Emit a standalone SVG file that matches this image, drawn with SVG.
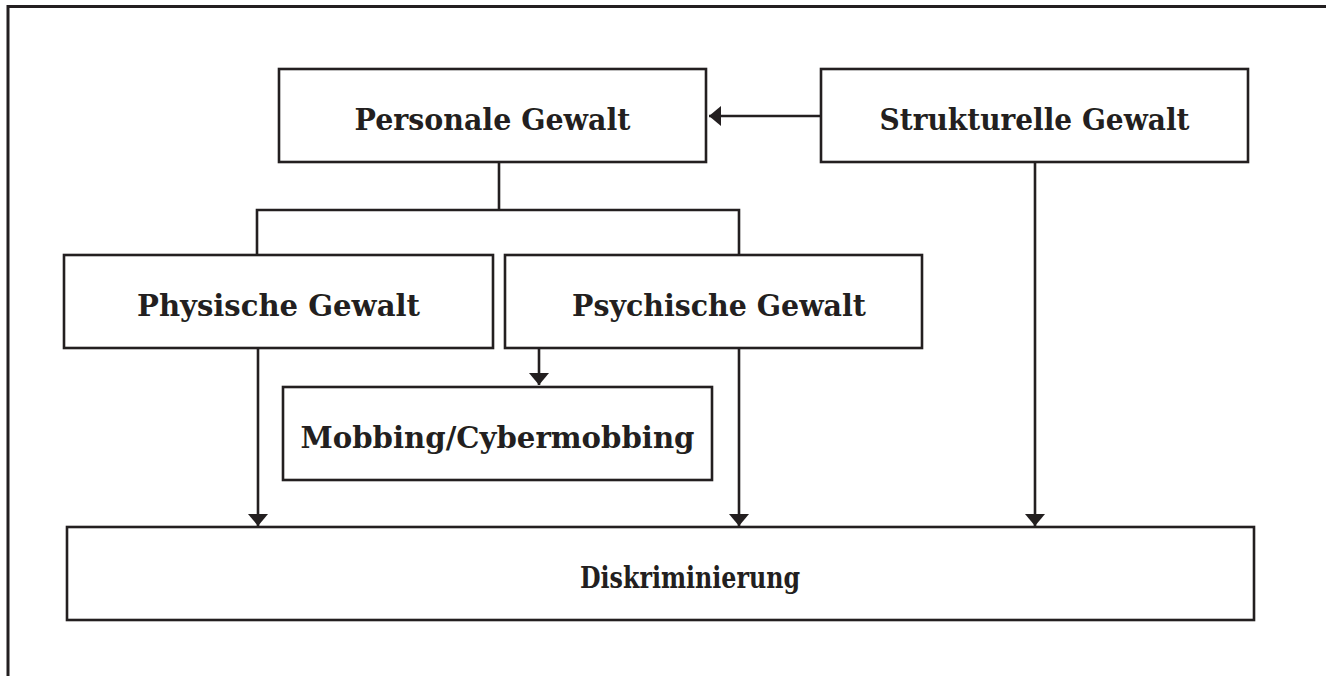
<svg xmlns="http://www.w3.org/2000/svg" width="1326" height="676" viewBox="0 0 1326 676">
<style>
.box{fill:#fff;stroke:#231f20;stroke-width:2.6}
.lbl{font-family:"DejaVu Serif","Liberation Serif",serif;font-weight:bold;font-size:29px;fill:#231f20;text-anchor:middle}
.ln{fill:none;stroke:#231f20;stroke-width:2.6}
.frame{fill:none;stroke:#231f20;stroke-width:3}
</style>
<defs>
<marker id="ah" viewBox="0 0 12 20" refX="12" refY="10" markerWidth="12" markerHeight="20" markerUnits="userSpaceOnUse" orient="auto">
<path d="M0,0 L12,10 L0,20 Z" fill="#231f20"/>
</marker>
</defs>
<rect width="1326" height="676" fill="#fff"/>
<path class="frame" d="M8,676 L8,6.5 L1326,6.5"/>
<g id="connectors">
<path class="ln" d="M821,116 L709,116" marker-end="url(#ah)"/>
<path class="ln" d="M499,163 L499,210 M257,255 L257,210 L739,210 L739,255"/>
<path class="ln" d="M258,348 L258,526" marker-end="url(#ah)"/>
<path class="ln" d="M739,348 L739,526" marker-end="url(#ah)"/>
<path class="ln" d="M539,348 L539,385" marker-end="url(#ah)"/>
<path class="ln" d="M1035,163 L1035,526" marker-end="url(#ah)"/>
</g>
<g id="personale">
<rect class="box" x="279" y="69" width="427" height="93"/>
<text class="lbl" x="492.5" y="130" textLength="276" lengthAdjust="spacingAndGlyphs">Personale Gewalt</text>
</g>
<g id="strukturelle">
<rect class="box" x="821" y="69" width="427" height="93"/>
<text class="lbl" x="1034.5" y="130" textLength="310" lengthAdjust="spacingAndGlyphs">Strukturelle Gewalt</text>
</g>
<g id="physische">
<rect class="box" x="64" y="255" width="429" height="93"/>
<text class="lbl" x="278.5" y="316" textLength="283" lengthAdjust="spacingAndGlyphs">Physische Gewalt</text>
</g>
<g id="psychische">
<rect class="box" x="505" y="255" width="417" height="93"/>
<text class="lbl" x="719" y="316" textLength="294" lengthAdjust="spacingAndGlyphs">Psychische Gewalt</text>
</g>
<g id="mobbing">
<rect class="box" x="283" y="387" width="429" height="93"/>
<text class="lbl" x="497.5" y="448" textLength="394" lengthAdjust="spacingAndGlyphs">Mobbing/Cybermobbing</text>
</g>
<g id="diskriminierung">
<rect class="box" x="67" y="527" width="1187" height="93"/>
<text class="lbl" x="690" y="588" textLength="220" lengthAdjust="spacingAndGlyphs">Diskriminierung</text>
</g>
</svg>
